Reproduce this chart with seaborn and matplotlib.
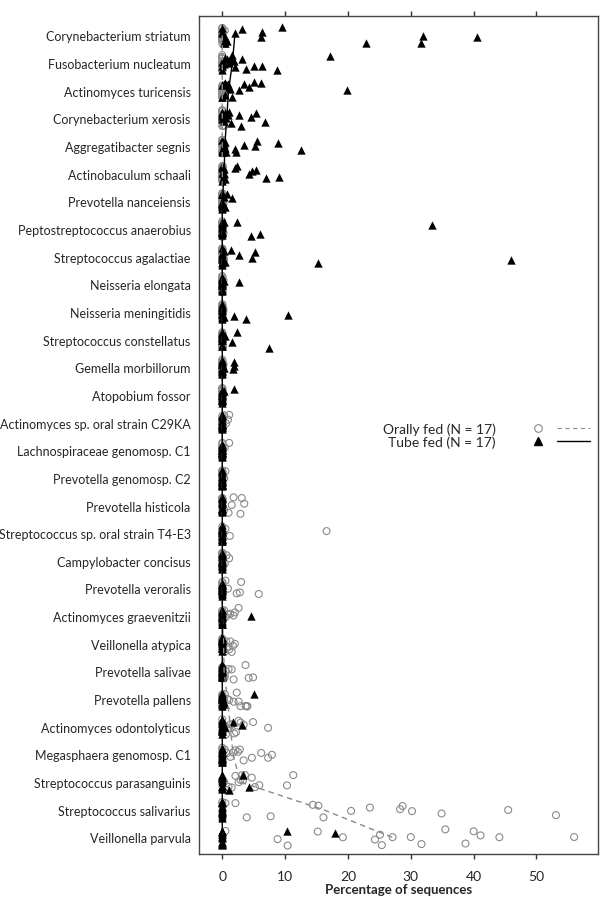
import numpy as np
import pandas as pd
import matplotlib
matplotlib.use("Agg")
import matplotlib.pyplot as plt
import seaborn as sns
from matplotlib.lines import Line2D
from matplotlib.legend_handler import HandlerTuple

# species, top to bottom
species = [
    "Corynebacterium striatum", "Fusobacterium nucleatum", "Actinomyces turicensis",
    "Corynebacterium xerosis", "Aggregatibacter segnis", "Actinobaculum schaali",
    "Prevotella nanceiensis", "Peptostreptococcus anaerobius", "Streptococcus agalactiae",
    "Neisseria elongata", "Neisseria meningitidis", "Streptococcus constellatus",
    "Gemella morbillorum", "Atopobium fossor", "Actinomyces sp. oral strain C29KA",
    "Lachnospiraceae genomosp. C1", "Prevotella genomosp. C2", "Prevotella histicola",
    "Streptococcus sp. oral strain T4-E3", "Campylobacter concisus", "Prevotella veroralis",
    "Actinomyces graevenitzii", "Veillonella atypica", "Prevotella salivae",
    "Prevotella pallens", "Actinomyces odontolyticus", "Megasphaera genomosp. C1",
    "Streptococcus parasanguinis", "Streptococcus salivarius", "Veillonella parvula",
]

groups = ["Orally fed (N = 17)", "Tube fed (N = 17)"]

# % of sequences per patient (17 per group), zeros are the piles at 0
oral_values = [
    [0] * 14 + [0.1, 0.2, 0.4],
    [0] * 14 + [0.2, 0.3, 0.5],
    [0] * 15 + [0.2, 0.3],
    [0] * 15 + [0.1, 0.3],
    [0] * 15 + [0.2, 0.3],
    [0] * 15 + [0.1, 0.2],
    [0] * 16 + [0.2],
    [0] * 15 + [0.1, 0.2],
    [0] * 15 + [0.2, 0.3],
    [0] * 16 + [0.2],
    [0] * 16 + [0.2],
    [0] * 16 + [0.1],
    [0] * 16 + [0.2],
    [0] * 16 + [0.1],
    [0] * 13 + [0.3, 0.6, 0.9, 1.1],
    [0] * 15 + [0.4, 1.1],
    [0] * 15 + [0.3, 0.5],
    [0] * 10 + [0.3, 1.0, 1.5, 1.8, 2.9, 3.1, 3.5],
    [0] * 14 + [0.5, 1.2, 16.6],
    [0] * 14 + [0.4, 0.7, 1.1],
    [0] * 11 + [0.5, 0.9, 2.3, 2.8, 3.0, 5.8],
    [0] * 10 + [0.3, 0.6, 0.9, 1.3, 1.8, 2.0, 2.6],
    [0] * 8 + [0.2, 0.4, 0.6, 0.9, 1.1, 1.3, 1.5, 1.7, 2.0],
    [0] * 8 + [0.3, 0.4, 0.6, 1.0, 1.5, 1.8, 3.7, 4.2, 4.9],
    [0] * 7 + [0.4, 0.8, 1.1, 1.8, 2.3, 2.6, 2.9, 3.7, 3.9, 4.0],
    [0] * 5 + [0.3, 0.6, 1.0, 1.3, 1.6, 1.9, 2.2, 2.6, 2.9, 3.4, 4.9, 7.3],
    [0] * 5 + [0.4, 0.8, 1.3, 1.7, 2.1, 2.5, 2.8, 3.4, 4.7, 6.2, 7.3, 7.9],
    [0] * 2 + [0.3, 0.6, 1.0, 1.5, 2.1, 2.6, 2.9, 3.1, 3.3, 3.6, 4.7, 5.2, 5.9, 10.3, 11.3],
    [0, 0, 0.5, 2.1, 3.9, 7.7, 14.4, 15.3, 16.1, 20.5, 23.5, 28.3, 28.7, 30.2, 34.9, 45.5, 53.1],
    [0.5, 8.8, 10.4, 15.2, 19.2, 24.3, 25.1, 25.4, 27.1, 30.0, 31.7, 35.5, 38.7, 40.0, 41.1, 44.1, 56.0],
]

tube_values = [
    [0, 0, 0, 0.2, 0.3, 0.4, 0.5, 0.8, 2.0, 3.1, 6.2, 6.4, 9.5, 22.9, 31.7, 32.0, 40.5],
    [0, 0, 0, 0.3, 0.5, 0.7, 1.0, 1.3, 1.6, 1.9, 2.0, 3.1, 3.7, 5.1, 6.3, 8.7, 17.2],
    [0, 0, 0, 0.2, 0.4, 0.5, 0.7, 0.9, 1.0, 1.3, 1.6, 2.6, 3.5, 4.2, 5.1, 6.2, 19.8],
    [0, 0, 0, 0, 0.2, 0.3, 0.5, 0.6, 0.7, 0.9, 1.1, 1.4, 2.6, 3.0, 4.6, 5.4, 6.8],
    [0, 0, 0, 0, 0.1, 0.2, 0.3, 0.4, 0.4, 0.6, 2.0, 2.2, 3.4, 5.2, 5.5, 8.9, 12.6],
    [0, 0, 0, 0, 0, 0.1, 0.2, 0.3, 0.3, 0.5, 2.1, 2.4, 4.3, 4.7, 5.4, 6.9, 9.1],
    [0] * 13 + [0.2, 0.4, 0.8, 1.5],
    [0] * 12 + [0.3, 2.3, 4.5, 6.0, 33.3],
    [0] * 9 + [0.2, 0.4, 1.4, 2.6, 4.7, 5.2, 15.2, 45.9],
    [0] * 15 + [0.3, 2.6],
    [0] * 13 + [0.3, 1.9, 3.8, 10.4],
    [0] * 13 + [0.4, 1.5, 2.3, 7.5],
    [0] * 13 + [0.3, 1.7, 1.8, 1.9],
    [0] * 15 + [0.3, 1.9],
    [0] * 17,
    [0] * 17,
    [0] * 17,
    [0] * 17,
    [0] * 17,
    [0] * 17,
    [0] * 17,
    [0] * 16 + [4.5],
    [0] * 17,
    [0] * 17,
    [0] * 15 + [0.5, 5.0],
    [0] * 14 + [0.4, 1.7, 3.1],
    [0] * 17,
    [0] * 14 + [1.0, 3.3, 4.3],
    [0] * 17,
    [0] * 15 + [10.3, 18.0],
]

rows = []
for name, o, t in zip(species, oral_values, tube_values):
    rows += [(name, groups[0], v) for v in o]
    rows += [(name, groups[1], v) for v in t]
df = pd.DataFrame(rows, columns=["species", "group", "pct"])

grey = "#8a8a8a"

sns.set_theme(style="ticks")
plt.rcParams["font.family"] = ["Lato", "DejaVu Sans"]
np.random.seed(7)

fig = plt.figure(figsize=(6.02, 9.04), dpi=100)
ax = fig.add_axes([0.3306, 0.0542, 0.6628, 0.927])

# orally fed: open grey circles
n0 = len(ax.collections)
sns.stripplot(data=df[df.group == groups[0]], x="pct", y="species", order=species,
              jitter=0.3, marker="o", size=5, color=grey, edgecolor=grey,
              linewidth=0.8, ax=ax)
for c in ax.collections[n0:]:
    c.set_facecolor("none")

# tube fed: black triangles
sns.stripplot(data=df[df.group == groups[1]], x="pct", y="species", order=species,
              jitter=0.3, marker="^", size=6, color="black", linewidth=0, ax=ax)

# medians joined across species
sns.pointplot(data=df, x="pct", y="species", hue="group", order=species,
              hue_order=groups, estimator="median", errorbar=None, markers="",
              linestyles=[(0, (4, 3)), "-"], palette=[grey, "black"],
              linewidth=1.0, legend=False, zorder=4, ax=ax)

ax.set_xlim(-3.7, 59.8)
ax.set_ylim(29.6, -0.7)
ax.set_xticks([0, 10, 20, 30, 40, 50])
ax.tick_params(axis="x", top=True, bottom=True, labeltop=False, direction="out",
               length=3.5, width=1, labelsize=10, pad=8, color="#333333")
ax.tick_params(axis="y", length=0, pad=6, labelsize=9)
ax.set_ylabel("")
ax.set_xlabel("Percentage of sequences", fontsize=9.5, fontweight="bold", labelpad=1)
for s in ax.spines.values():
    s.set_color("#444444")
    s.set_linewidth(1)

h1 = (Line2D([], [], marker="o", ls="none", mfc="none", mec=grey, ms=5.5, mew=0.8),
      Line2D([], [], ls=(0, (4, 3)), color=grey, lw=0.8))
h2 = (Line2D([], [], marker="^", ls="none", color="black", ms=6),
      Line2D([], [], ls="-", color="black", lw=1))
ax.legend([h1, h2], groups, handler_map={tuple: HandlerTuple(ndivide=None, pad=0.15)},
          markerfirst=False, frameon=False, loc="upper left",
          bbox_to_anchor=(0.461, 0.515), borderpad=0, borderaxespad=0,
          handlelength=5.0, handletextpad=1.8, labelspacing=0, fontsize=10)

fig.savefig("out.png", dpi=100)
